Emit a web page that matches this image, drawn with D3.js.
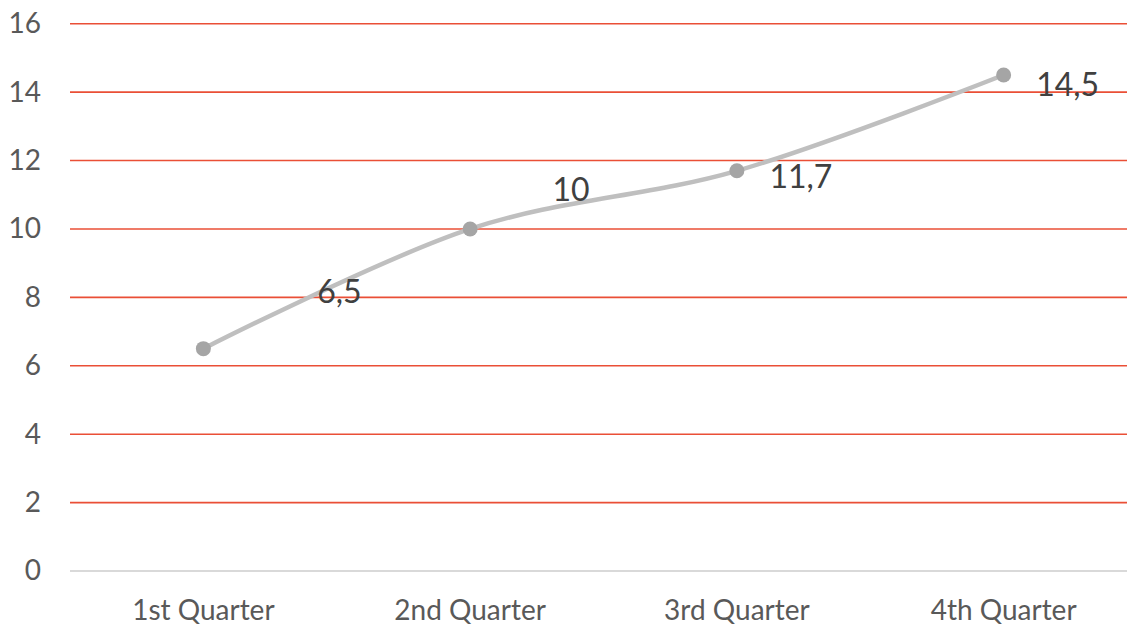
<!DOCTYPE html>
<html>
<head>
<meta charset="utf-8">
<script src="https://cdn.jsdelivr.net/npm/d3@7"></script>
<style>
  html, body { margin: 0; padding: 0; background: #fff; overflow: hidden; }
  svg { display: block; }
</style>
</head>
<body>
<svg id="chart" width="1127" height="626"></svg>
<script>
// Quarterly values
const categories = ["1st Quarter", "2nd Quarter", "3rd Quarter", "4th Quarter"];
const values = [6.5, 10, 11.7, 14.5];
const valueLabels = ["6,5", "10", "11,7", "14,5"];
const yTicks = [0, 2, 4, 6, 8, 10, 12, 14, 16];

// Layout
const plot = { left: 70, right: 1137, top: 23.7, bottom: 571 };
const font = "Lato, 'Open Sans', sans-serif";
// where each value label sits relative to its point
const labelShift = [[136, -57], [101, -39], [64, 6], [64, 9]];

const svg = d3.select("#chart");

const x = d3.scaleBand().domain(categories).range([plot.left, plot.right]);
const y = d3.scaleLinear().domain([0, 16]).range([plot.bottom, plot.top]);
const cx = c => x(c) + x.bandwidth() / 2;

// Horizontal gridlines
svg.append("g")
  .selectAll("line")
  .data(yTicks.filter(t => t > 0))
  .join("line")
  .attr("x1", plot.left).attr("x2", plot.right)
  .attr("y1", d => y(d)).attr("y2", d => y(d))
  .attr("stroke", "#EA4F36").attr("stroke-width", 1.6);

// Baseline
svg.append("line")
  .attr("x1", plot.left).attr("x2", plot.right)
  .attr("y1", y(0)).attr("y2", y(0))
  .attr("stroke", "#D9D9D9").attr("stroke-width", 2.2);

// Y axis labels
const yAxis = svg.append("g")
  .attr("transform", `translate(${plot.left - 29},0)`)
  .call(d3.axisLeft(y).tickValues(yTicks).tickSize(0).tickPadding(0).tickFormat(d3.format("d")));
yAxis.select(".domain").remove();
yAxis.selectAll("text")
  .attr("font-family", font).attr("font-size", 28).attr("fill", "#595959")
  .attr("text-anchor", "end");

// X axis labels
const xAxis = svg.append("g")
  .attr("transform", `translate(0,${plot.bottom})`)
  .call(d3.axisBottom(x).tickSize(0).tickPadding(29));
xAxis.select(".domain").remove();
xAxis.selectAll("text")
  .attr("font-family", font).attr("font-size", 28).attr("fill", "#595959");

// Smoothed series line
const line = d3.line()
  .x((d, i) => cx(categories[i]))
  .y(d => y(d))
  .curve(d3.curveCardinal);

svg.append("path")
  .datum(values)
  .attr("d", line)
  .attr("fill", "none")
  .attr("stroke", "#BFBFBF")
  .attr("stroke-width", 4.5)
  .attr("stroke-linecap", "round");

// Markers
svg.append("g")
  .selectAll("circle")
  .data(values)
  .join("circle")
  .attr("cx", (d, i) => cx(categories[i]))
  .attr("cy", d => y(d))
  .attr("r", 7.5)
  .attr("fill", "#A5A5A5");

// Value labels
svg.append("g")
  .selectAll("text")
  .data(values)
  .join("text")
  .attr("x", (d, i) => cx(categories[i]) + labelShift[i][0])
  .attr("y", (d, i) => y(d) + labelShift[i][1])
  .attr("dy", "0.36em")
  .attr("text-anchor", "middle")
  .attr("font-family", font).attr("font-size", 32).attr("fill", "#404040")
  .text((d, i) => valueLabels[i]);
</script>
</body>
</html>
